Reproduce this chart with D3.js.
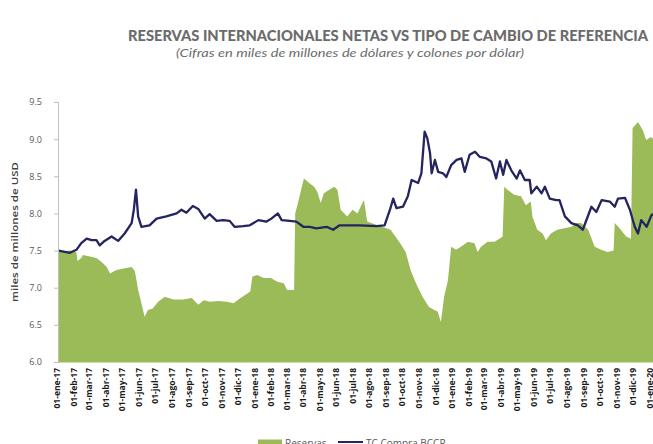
<!DOCTYPE html>
<html>
<head>
<meta charset="utf-8">
<script src="https://cdn.jsdelivr.net/npm/d3@7"></script>
<style>
  body { margin: 0; background: #fff; }
  svg { display: block; font-family: Lato, "Open Sans", sans-serif; }
</style>
</head>
<body>
<div id="chart"></div>
<script>
// Reservas internacionales netas (miles de millones de USD)
const resDates = [
  "2017-01-02","2017-01-23","2017-02-04","2017-02-06","2017-02-13","2017-02-16","2017-03-01","2017-03-13",
  "2017-03-22","2017-04-01","2017-04-07","2017-04-19","2017-05-02","2017-05-17","2017-05-23","2017-05-29",
  "2017-06-04","2017-06-10","2017-06-16","2017-06-25","2017-07-05","2017-07-17","2017-08-02","2017-08-20",
  "2017-09-05","2017-09-17","2017-09-27","2017-10-09","2017-10-24","2017-11-09","2017-11-21","2017-12-04",
  "2017-12-16","2017-12-22","2017-12-26","2018-01-04","2018-01-16","2018-01-29","2018-02-10","2018-02-22",
  "2018-02-28","2018-03-13","2018-03-15","2018-03-19","2018-03-31","2018-04-10","2018-04-19","2018-04-25",
  "2018-05-01","2018-05-07","2018-05-17","2018-05-26","2018-06-01","2018-06-07","2018-06-19","2018-06-29",
  "2018-07-08","2018-07-17","2018-07-20","2018-07-26","2018-08-14","2018-09-07","2018-09-23","2018-10-05",
  "2018-10-14","2018-10-24","2018-11-05","2018-11-17","2018-11-27","2018-12-03","2018-12-09","2018-12-15",
  "2018-12-22","2018-12-28","2019-01-06","2019-01-15","2019-01-28","2019-02-09","2019-02-15","2019-02-21",
  "2019-03-05","2019-03-18","2019-03-27","2019-04-02","2019-04-05","2019-04-11","2019-04-23","2019-05-06",
  "2019-05-15","2019-05-24","2019-05-27","2019-06-05","2019-06-15","2019-06-21","2019-06-30","2019-07-12",
  "2019-07-25","2019-08-07","2019-08-16","2019-08-25","2019-09-07","2019-09-19","2019-10-01","2019-10-13",
  "2019-10-24","2019-10-26","2019-11-04","2019-11-16","2019-11-25","2019-11-28","2019-12-08","2019-12-17",
  "2019-12-23","2020-01-01","2020-01-10"
];
const resValues = [
  7.48, 7.50, 7.48, 7.36, 7.40, 7.44, 7.42, 7.40,
  7.35, 7.28, 7.19, 7.24, 7.26, 7.28, 7.22, 6.97,
  6.79, 6.61, 6.70, 6.72, 6.81, 6.88, 6.84, 6.84,
  6.86, 6.77, 6.83, 6.81, 6.82, 6.81, 6.79, 6.86,
  6.92, 6.95, 7.15, 7.17, 7.13, 7.13, 7.08, 7.06,
  6.97, 6.97, 8.00, 8.11, 8.47, 8.41, 8.36, 8.29,
  8.14, 8.27, 8.32, 8.36, 8.32, 8.05, 7.96, 8.05,
  8.00, 8.14, 8.18, 7.89, 7.84, 7.78, 7.62, 7.48,
  7.24, 7.06, 6.88, 6.74, 6.70, 6.68, 6.54, 6.88,
  7.10, 7.55, 7.51, 7.55, 7.62, 7.60, 7.48, 7.55,
  7.62, 7.62, 7.66, 7.69, 8.36, 8.32, 8.25, 8.23,
  8.11, 8.16, 7.96, 7.78, 7.73, 7.64, 7.73, 7.78,
  7.80, 7.82, 7.87, 7.87, 7.78, 7.55, 7.51, 7.48,
  7.50, 7.87, 7.80, 7.69, 7.66, 9.15, 9.23, 9.12,
  8.99, 9.03, 8.97
];

// TC Compra BCCR (colones por dólar, eje secundario)
const tcDates = [
  "2017-01-02","2017-01-23","2017-02-04","2017-02-13","2017-02-23","2017-03-04","2017-03-13","2017-03-19",
  "2017-03-28","2017-04-10","2017-04-22","2017-05-04","2017-05-17","2017-05-21","2017-05-25","2017-05-29",
  "2017-06-04","2017-06-19","2017-07-02","2017-07-20","2017-08-08","2017-08-17","2017-08-26","2017-09-07",
  "2017-09-17","2017-09-29","2017-10-08","2017-10-21","2017-11-02","2017-11-14","2017-11-23","2017-12-09",
  "2017-12-21","2018-01-06","2018-01-21","2018-01-30","2018-02-11","2018-02-18","2018-03-05","2018-03-17",
  "2018-03-30","2018-04-11","2018-04-23","2018-05-12","2018-05-24","2018-06-05","2018-06-21","2018-07-12",
  "2018-08-12","2018-08-27","2018-09-06","2018-09-12","2018-09-18","2018-09-30","2018-10-09","2018-10-16",
  "2018-10-28","2018-11-03","2018-11-09","2018-11-14","2018-11-19","2018-11-22","2018-11-28","2018-12-04",
  "2018-12-13","2018-12-19","2018-12-28","2019-01-07","2019-01-16","2019-01-22","2019-01-31","2019-02-10",
  "2019-02-19","2019-03-03","2019-03-12","2019-03-21","2019-03-28","2019-04-03","2019-04-09","2019-04-18",
  "2019-04-28","2019-05-04","2019-05-13","2019-05-22","2019-05-25","2019-06-04","2019-06-13","2019-06-19",
  "2019-06-28","2019-07-10","2019-07-16","2019-07-26","2019-08-07","2019-08-19","2019-08-28","2019-09-13",
  "2019-09-22","2019-10-02","2019-10-17","2019-10-26","2019-11-01","2019-11-14","2019-11-23","2019-12-02",
  "2019-12-08","2019-12-14","2019-12-24","2020-01-02","2020-01-10"
];
const tcValues = [
  550.0, 548.8, 550.4, 554.0, 556.4, 555.6, 555.6, 552.8,
  555.2, 557.6, 555.2, 559.2, 564.8, 572.0, 582.8, 568.4,
  562.8, 563.6, 567.2, 568.4, 570.0, 572.0, 570.4, 574.0,
  572.4, 567.2, 569.6, 566.0, 566.4, 566.0, 562.8, 563.2,
  563.6, 566.4, 565.6, 567.2, 570.0, 566.4, 566.0, 565.6,
  562.8, 562.8, 562.0, 562.8, 561.2, 563.6, 563.6, 563.6,
  563.2, 563.6, 572.0, 578.0, 572.8, 573.6, 579.2, 588.0,
  586.4, 591.6, 614.0, 610.4, 602.4, 591.6, 598.8, 592.4,
  591.6, 589.6, 596.0, 598.8, 599.6, 592.4, 601.6, 603.2,
  600.4, 599.6, 598.0, 588.8, 598.0, 590.8, 598.8, 593.2,
  588.8, 593.2, 588.0, 588.0, 580.8, 584.4, 580.8, 584.4,
  578.0, 577.2, 577.2, 568.4, 564.8, 563.6, 561.2, 573.6,
  570.8, 577.2, 576.4, 573.6, 578.0, 578.4, 572.0, 562.8,
  559.2, 566.4, 562.8, 569.2, 570.0
];

const xTickLabels = [
  "01-ene-17","01-feb-17","01-mar-17","01-abr-17","01-may-17","01-jun-17","01-jul-17","01-ago-17",
  "01-sep-17","01-oct-17","01-nov-17","01-dic-17","01-ene-18","01-feb-18","01-mar-18","01-abr-18",
  "01-may-18","01-jun-18","01-jul-18","01-ago-18","01-sep-18","01-oct-18","01-nov-18","01-dic-18",
  "01-ene-19","01-feb-19","01-mar-19","01-abr-19","01-may-19","01-jun-19","01-jul-19","01-ago-19",
  "01-sep-19","01-oct-19","01-nov-19","01-dic-19","01-ene-20"
];
const yTicks = [6.0, 6.5, 7.0, 7.5, 8.0, 8.5, 9.0, 9.5];

const width = 653;
const height = 444;
const plotLeft = 58, plotTop = 102, plotBottom = 362;

const parse = d3.timeParse("%Y-%m-%d");
const reservas = resDates.map((d, i) => ({ date: parse(d), value: resValues[i] }));
const tipoCambio = tcDates.map((d, i) => ({ date: parse(d), value: tcValues[i] }));
const tickDates = d3.timeMonth.range(new Date(2017, 0, 1), new Date(2020, 0, 2));

const svg = d3.select("#chart")
  .append("svg")
  .attr("width", width)
  .attr("height", height);

// Scales
const x = d3.scaleTime()
  .domain([new Date(2017, 0, 1), new Date(2020, 0, 1)])
  .range([plotLeft, 651]);

const y = d3.scaleLinear()
  .domain([6.0, 9.5])
  .range([plotBottom, plotTop]);

// secondary axis for the exchange rate (it sits off the right edge in the original)
const yTc = d3.scaleLinear()
  .domain([490, 630])
  .range([plotBottom, plotTop]);

// Title and subtitle
svg.append("text")
  .attr("x", 128)
  .attr("y", 41)
  .attr("textLength", 520)
  .attr("lengthAdjust", "spacingAndGlyphs")
  .style("font-size", "15.5px")
  .style("font-weight", "900")
  .style("fill", "#6b6b6b")
  .text("RESERVAS INTERNACIONALES NETAS VS TIPO DE CAMBIO DE REFERENCIA");

svg.append("text")
  .attr("x", 176)
  .attr("y", 57)
  .attr("textLength", 348)
  .attr("lengthAdjust", "spacingAndGlyphs")
  .style("font-size", "11px")
  .style("font-style", "italic")
  .style("fill", "#6b6b6b")
  .text("(Cifras en miles de millones de dólares y colones por dólar)");

// Area for reservas
const area = d3.area()
  .x(d => x(d.date))
  .y0(plotBottom)
  .y1(d => y(d.value));

svg.append("path")
  .datum(reservas)
  .attr("fill", "#9bbb59")
  .attr("d", area);

// Line for tipo de cambio
const line = d3.line()
  .x(d => x(d.date))
  .y(d => yTc(d.value));

svg.append("path")
  .datum(tipoCambio)
  .attr("fill", "none")
  .attr("stroke", "#24245f")
  .attr("stroke-width", 2.3)
  .attr("stroke-linejoin", "round")
  .attr("d", line);

// Y axis
const yAxis = svg.append("g")
  .attr("transform", `translate(${plotLeft},0)`)
  .call(d3.axisLeft(y).tickValues(yTicks).tickFormat(d3.format(".1f")).tickSize(4).tickPadding(12));

yAxis.select(".domain").attr("stroke", "#bfbfbf");
yAxis.selectAll(".tick line").attr("stroke", "#bfbfbf");
yAxis.selectAll(".tick text")
  .style("font-family", "'Open Sans', sans-serif")
  .style("font-size", "9px")
  .style("fill", "#595959");

svg.append("text")
  .attr("transform", `translate(18, 232) rotate(-90)`)
  .attr("text-anchor", "middle")
  .attr("textLength", 140)
  .attr("lengthAdjust", "spacingAndGlyphs")
  .style("font-family", "'Open Sans', sans-serif")
  .style("font-size", "9.5px")
  .style("font-weight", "600")
  .style("fill", "#404040")
  .text("miles de millones de USD");

// X axis
svg.append("line")
  .attr("x1", plotLeft).attr("x2", width)
  .attr("y1", plotBottom).attr("y2", plotBottom)
  .attr("stroke", "#9bbb59")
  .attr("stroke-width", 1);

svg.selectAll(".xlab")
  .data(tickDates)
  .enter()
  .append("text")
  .attr("class", "xlab")
  .attr("transform", d => `translate(${x(d) - 1}, 368) rotate(-90)`)
  .attr("dy", "0.35em")
  .attr("text-anchor", "end")
  .style("font-family", "'Open Sans', sans-serif")
  .style("font-size", "8.5px")
  .style("font-weight", "700")
  .style("fill", "#1a1a1a")
  .text((d, i) => xTickLabels[i]);

// Legend
const legend = svg.append("g").style("font-family", "'Open Sans', sans-serif");

legend.append("rect")
  .attr("x", 258).attr("y", 439.5)
  .attr("width", 24).attr("height", 5)
  .attr("fill", "#9bbb59");

legend.append("text")
  .attr("x", 285).attr("y", 447)
  .style("font-size", "10px")
  .style("fill", "#595959")
  .text("Reservas");

legend.append("line")
  .attr("x1", 338).attr("x2", 363)
  .attr("y1", 442).attr("y2", 442)
  .attr("stroke", "#24245f")
  .attr("stroke-width", 2);

legend.append("text")
  .attr("x", 366).attr("y", 447)
  .style("font-size", "10px")
  .style("fill", "#595959")
  .text("TC Compra BCCR");
</script>
</body>
</html>
